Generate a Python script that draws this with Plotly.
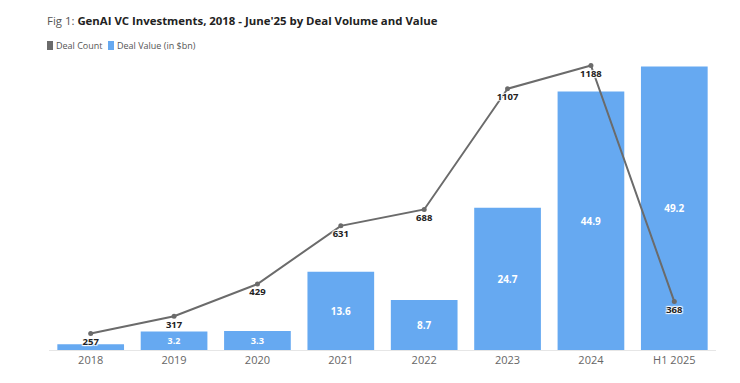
import plotly.graph_objects as go

categories = ["2018", "2019", "2020", "2021", "2022", "2023", "2024", "H1 2025"]
deal_value = [1.0, 3.2, 3.3, 13.6, 8.7, 24.7, 44.9, 49.2]
deal_count = [257, 317, 429, 631, 688, 1107, 1188, 368]
legend_names = ["Deal Count", "Deal Value (in $bn)"]

BLUE = "#66a9f1"
GRAY = "#6b6b6b"
FONT = "Open Sans"

# page body has an 8px margin; compensate so the plot lands where the reference has it
OFF = 8
W, H = 740, 383
ML, MR, MT, MB = 49 - OFF, 32, 62 - OFF, 41
PW, PH = W - ML - MR, H - MT - MB

def px(xf):
    return (xf - ML) / PW

def py(yf):
    return (H - MB - yf) / PH

value_text = ["" if v < 2 else f"{v:.1f}" for v in deal_value]

fig = go.Figure()
fig.add_trace(go.Bar(
    x=categories, y=deal_value, marker=dict(color=BLUE, line=dict(width=0)),
    text=value_text, textposition="inside", insidetextanchor="middle",
    textfont=dict(color="white", size=10, family=FONT, weight="bold"), textangle=0,
    showlegend=False, yaxis="y", cliponaxis=False,
))
fig.add_trace(go.Scatter(
    x=categories, y=deal_count, mode="lines+markers+text",
    line=dict(color=GRAY, width=2), marker=dict(color=GRAY, size=5),
    text=[str(c) for c in deal_count], textposition="bottom center",
    textfont=dict(color="#222222", size=9.5, family=FONT, weight="bold",
                  shadow="1px 1px 1px white, -1px -1px 1px white, 1px -1px 1px white, -1px 1px 1px white"),
    showlegend=False, yaxis="y2", cliponaxis=False,
))

# custom legend (compact, like the reference)
legend_items = [(legend_names[0], GRAY, 47, 55), (legend_names[1], BLUE, 108, 116)]
shapes = []
annotations = []
for name, col, sx, tx in legend_items:
    shapes.append(dict(type="rect", xref="paper", yref="paper",
                       x0=px(sx - OFF), x1=px(sx + 6 - OFF),
                       y0=py(50 - OFF), y1=py(41 - OFF),
                       fillcolor=col, line=dict(width=0)))
    annotations.append(dict(text=name, xref="paper", yref="paper",
                            x=px(tx - OFF), y=py(45.5 - OFF),
                            xanchor="left", yanchor="middle", showarrow=False,
                            borderpad=0,
                            font=dict(size=9, color="#555555", family=FONT)))

fig.update_layout(
    width=W, height=H,
    margin=dict(l=ML, r=MR, t=MT, b=MB),
    paper_bgcolor="white", plot_bgcolor="white",
    bargap=0.2,
    showlegend=False,
    font=dict(family=FONT, color="#555555"),
    title=dict(
        text="<span style='color:#555555;font-weight:normal'>Fig 1: </span><b>GenAI VC Investments, 2018 - June'25 by Deal Volume and Value</b>",
        x=(47 - OFF) / W, xref="container", xanchor="left",
        y=1 - (21 - OFF) / H, yref="container", yanchor="middle",
        font=dict(size=11.4, color="#222222", family=FONT),
    ),
    shapes=shapes,
    annotations=annotations,
    xaxis=dict(showgrid=False, showline=True, linecolor="#e6e6e6", linewidth=1,
               ticks="", tickfont=dict(size=11, color="#666666", family=FONT)),
    yaxis=dict(range=[0, 50], visible=False, showgrid=False),
    yaxis2=dict(range=[200, 1200], overlaying="y", visible=False, showgrid=False),
)

fig.write_html("out.html")
